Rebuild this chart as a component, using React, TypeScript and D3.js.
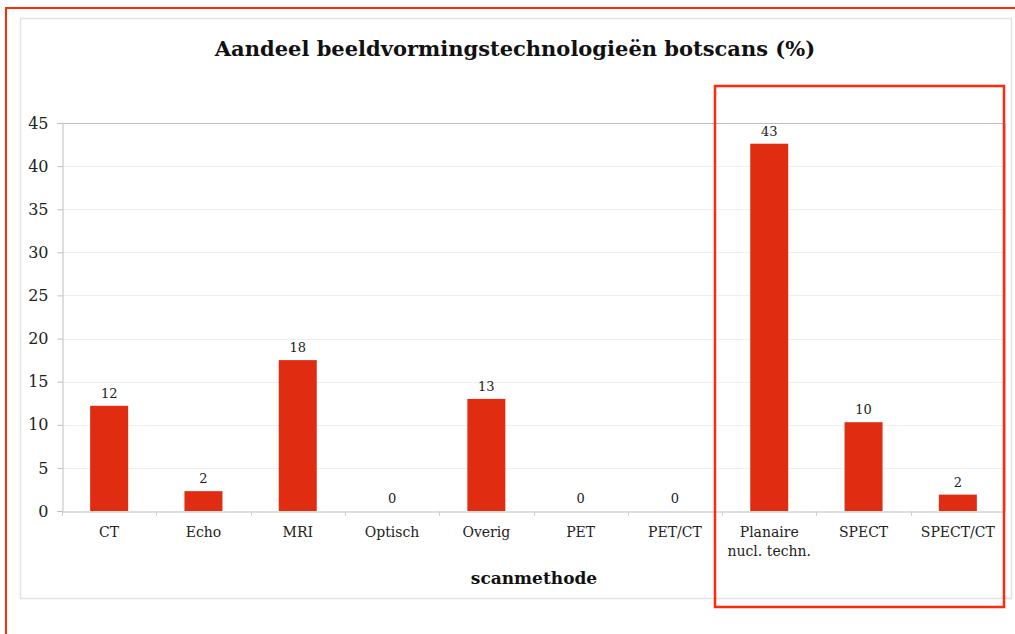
import { useEffect, useRef } from 'react';
import * as d3 from 'd3';

const categories = ['CT', 'Echo', 'MRI', 'Optisch', 'Overig', 'PET', 'PET/CT', 'Planaire\nnucl. techn.', 'SPECT', 'SPECT/CT'];
const shares = [12.2, 2.3, 17.5, 0, 13, 0, 0, 42.6, 10.3, 1.9];
const shareLabels = ['12', '2', '18', '0', '13', '0', '0', '43', '10', '2'];
const yTicks = [0, 5, 10, 15, 20, 25, 30, 35, 40, 45];

const FONT = "'DejaVu Serif', 'Liberation Serif', serif";
const BAR_RED = '#e02d12';
const FRAME_RED = '#ff2a0a';

export default function App() {
  const svgRef = useRef<SVGSVGElement>(null);

  useEffect(() => {
    if (!svgRef.current) return;
    const W = 1015;
    const H = 634;
    const plot = { left: 62, top: 123, right: 1005, bottom: 511 };

    const svg = d3.select(svgRef.current);
    svg.selectAll('*').remove();
    svg.attr('width', W).attr('height', H).attr('viewBox', `0 0 ${W} ${H}`);

    svg.append('rect').attr('width', W).attr('height', H).attr('fill', '#fff');

    // outer red frame (runs off the right and bottom edges)
    svg
      .append('rect')
      .attr('x', 6)
      .attr('y', 8)
      .attr('width', W + 20)
      .attr('height', H + 20)
      .attr('fill', 'none')
      .attr('stroke', FRAME_RED)
      .attr('stroke-width', 2);

    // chart container border
    svg
      .append('rect')
      .attr('x', 20.5)
      .attr('y', 18.5)
      .attr('width', 991)
      .attr('height', 580)
      .attr('fill', '#fff')
      .attr('stroke', '#e2e2e2')
      .attr('stroke-width', 1.5);

    const x = d3.scaleBand().domain(categories).range([plot.left, plot.right]).paddingInner(0).paddingOuter(0);
    const y = d3.scaleLinear().domain([0, 45]).range([plot.bottom, plot.top]);
    const barW = 38;

    // gridlines
    svg
      .append('g')
      .selectAll('line')
      .data(yTicks.filter((t) => t > 0 && t < 45))
      .join('line')
      .attr('x1', plot.left)
      .attr('x2', plot.right)
      .attr('y1', (d) => Math.round(y(d)) + 0.5)
      .attr('y2', (d) => Math.round(y(d)) + 0.5)
      .attr('stroke', '#efefef');

    // plot frame lines
    svg
      .append('line')
      .attr('x1', plot.left)
      .attr('x2', plot.right)
      .attr('y1', plot.top + 0.5)
      .attr('y2', plot.top + 0.5)
      .attr('stroke', '#bdbdbd');
    svg
      .append('line')
      .attr('x1', plot.right + 0.5)
      .attr('x2', plot.right + 0.5)
      .attr('y1', plot.top)
      .attr('y2', plot.bottom)
      .attr('stroke', '#d4d4d4');

    // y axis
    const yAxis = svg
      .append('g')
      .attr('transform', `translate(${plot.left + 0.5},0)`)
      .call(d3.axisLeft(y).tickValues(yTicks).tickSize(5).tickPadding(9));
    yAxis.select('.domain').attr('stroke', '#bdbdbd');
    yAxis.selectAll('.tick line').attr('stroke', '#bdbdbd');
    yAxis.selectAll('.tick text').attr('font-family', FONT).attr('font-size', 16).attr('fill', '#222');

    // bars
    svg
      .append('g')
      .selectAll('rect')
      .data(categories)
      .join('rect')
      .attr('x', (d) => (x(d) ?? 0) + x.bandwidth() / 2 - barW / 2)
      .attr('width', barW)
      .attr('y', (d, i) => y(shares[i]))
      .attr('height', (d, i) => plot.bottom - y(shares[i]))
      .attr('fill', BAR_RED);

    // value labels
    svg
      .append('g')
      .selectAll('text')
      .data(categories)
      .join('text')
      .attr('x', (d) => (x(d) ?? 0) + x.bandwidth() / 2)
      .attr('y', (d, i) => y(shares[i]) - 8)
      .attr('text-anchor', 'middle')
      .attr('font-family', FONT)
      .attr('font-size', 13)
      .attr('fill', '#222')
      .text((d, i) => shareLabels[i]);

    // x axis
    const xAxis = svg
      .append('g')
      .attr('transform', `translate(0,${plot.bottom + 0.5})`)
      .call(d3.axisBottom(x).tickSize(0).tickFormat(() => ''));
    xAxis.select('.domain').attr('stroke', '#bdbdbd');

    // separator ticks between categories
    svg
      .append('g')
      .selectAll('line')
      .data(categories)
      .join('line')
      .attr('x1', (d) => Math.round(x(d) ?? 0) + 0.5)
      .attr('x2', (d) => Math.round(x(d) ?? 0) + 0.5)
      .attr('y1', plot.bottom)
      .attr('y2', plot.bottom + 5)
      .attr('stroke', '#d0d0d0');

    // category labels
    const labels = svg
      .append('g')
      .selectAll('text')
      .data(categories)
      .join('text')
      .attr('x', (d) => (x(d) ?? 0) + x.bandwidth() / 2)
      .attr('y', plot.bottom + 26)
      .attr('text-anchor', 'middle')
      .attr('font-family', FONT)
      .attr('font-size', 14)
      .attr('fill', '#222');
    labels.each(function (d) {
      const t = d3.select(this);
      d.split('\n').forEach((line, i) => {
        t.append('tspan')
          .attr('x', t.attr('x'))
          .attr('dy', i === 0 ? 0 : 19)
          .text(line);
      });
    });

    // title
    svg
      .append('text')
      .attr('x', 515)
      .attr('y', 56)
      .attr('text-anchor', 'middle')
      .attr('font-family', FONT)
      .attr('font-size', 21)
      .attr('font-weight', 'bold')
      .attr('fill', '#111')
      .text('Aandeel beeldvormingstechnologieën botscans (%)');

    // axis title
    svg
      .append('text')
      .attr('x', 534)
      .attr('y', 584)
      .attr('text-anchor', 'middle')
      .attr('font-family', FONT)
      .attr('font-size', 17)
      .attr('font-weight', 'bold')
      .attr('fill', '#111')
      .text('scanmethode');

    // highlight box around the nuclear techniques
    svg
      .append('rect')
      .attr('x', 715)
      .attr('y', 86)
      .attr('width', 289)
      .attr('height', 521)
      .attr('fill', 'none')
      .attr('stroke', FRAME_RED)
      .attr('stroke-width', 2.5);
  }, []);

  return (
    <div style={{ position: 'fixed', left: 0, top: 0 }}>
      <svg ref={svgRef} style={{ display: 'block' }} />
    </div>
  );
}
